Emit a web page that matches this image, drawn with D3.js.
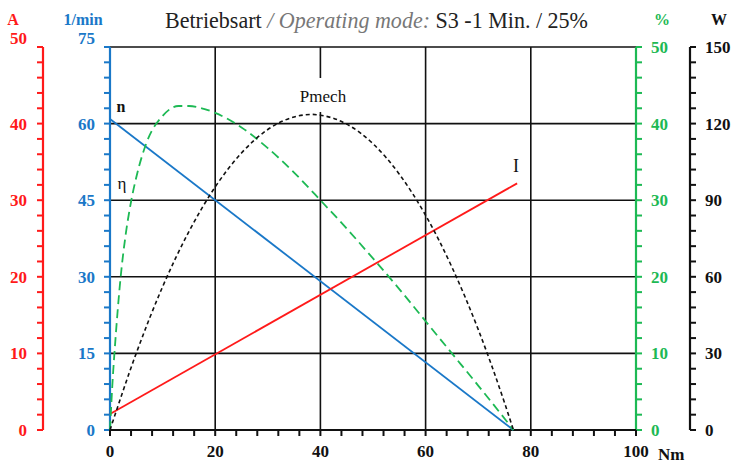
<!DOCTYPE html>
<html>
<head>
<meta charset="utf-8">
<script src="https://cdn.jsdelivr.net/npm/d3@7"></script>
<style>
  body { margin: 0; background: #fff; }
  text { font-family: "Liberation Serif", "DejaVu Serif", serif; }
</style>
</head>
<body>
<svg id="chart" width="731" height="463"></svg>
<script>
// torque axis (Nm)
const torqueTicks = [0, 20, 40, 60, 80, 100];

// speed n (1/min) - straight line
const speedTorque = [0, 76.7];
const speedValues = [60.9, 0];

// current I (A) - straight line
const currentTorque = [0, 77.4];
const currentValues = [2.1, 32.2];

// mechanical power Pmech (W)
const powerTorque = [0, 5, 10, 15, 20, 25, 30, 35, 38.4, 40, 45, 50, 55, 60, 65, 70, 75, 76.7];
const powerValues = [0, 30.1, 56.1, 77.7, 95.2, 108.5, 117.7, 122.6, 123.6, 123.3, 119.8, 112.1, 100.2, 84.1, 63.8, 39.4, 10.7, 0];

// efficiency eta (%)
const etaTorque = [0, 0.5, 1, 2, 3, 4, 5, 7, 10, 13, 15, 18, 20, 25, 30, 35, 40, 45, 50, 55, 60, 65, 70, 75, 76.7];
const etaValues = [0, 6.5, 11.5, 19.8, 25.6, 29.8, 33.0, 37.6, 41.0, 42.3, 42.3, 41.9, 41.4, 39.5, 36.8, 33.6, 30.0, 26.3, 22.4, 18.4, 14.2, 10.0, 5.8, 1.5, 0];

const plotLeft = 110, plotRight = 636, plotTop = 47, plotBottom = 430;

const svg = d3.select("#chart");

const x = d3.scaleLinear().domain([0, 100]).range([plotLeft, plotRight]);
const yA = d3.scaleLinear().domain([0, 50]).range([plotBottom, plotTop]);
const yN = d3.scaleLinear().domain([0, 75]).range([plotBottom, plotTop]);
const yP = d3.scaleLinear().domain([0, 50]).range([plotBottom, plotTop]);
const yW = d3.scaleLinear().domain([0, 150]).range([plotBottom, plotTop]);

const RED = "#ff1a1a", BLUE = "#1a78c8", GREEN = "#1db954", BLACK = "#111";

// grid
const grid = svg.append("g");
grid.selectAll("line.v")
  .data(torqueTicks.slice(1, -1))
  .join("line")
  .attr("class", "v")
  .attr("x1", d => x(d)).attr("x2", d => x(d))
  .attr("y1", plotTop).attr("y2", plotBottom)
  .attr("stroke", BLACK).attr("stroke-width", 1.6);
grid.selectAll("line.h")
  .data([15, 30, 45, 60, 75])
  .join("line")
  .attr("class", "h")
  .attr("x1", plotLeft).attr("x2", plotRight)
  .attr("y1", d => yN(d)).attr("y2", d => yN(d))
  .attr("stroke", BLACK).attr("stroke-width", 1.6);

// generic vertical axis builder
function drawAxis(opts) {
  const { scale, xPos, color, step, minor, side, labelX, anchor, shiftTop } = opts;
  const g = svg.append("g").attr("class", "axis");
  const [d0, d1] = scale.domain();
  g.append("line")
    .attr("x1", xPos).attr("x2", xPos)
    .attr("y1", scale(d0)).attr("y2", scale(d1))
    .attr("stroke", color).attr("stroke-width", 2.2);
  const ticks = d3.range(d0, d1 + minor / 2, minor);
  const len = side === "left" ? -6 : 6;
  g.selectAll("line.tick")
    .data(ticks)
    .join("line")
    .attr("class", "tick")
    .attr("x1", xPos).attr("x2", xPos + len)
    .attr("y1", d => scale(d)).attr("y2", d => scale(d))
    .attr("stroke", color).attr("stroke-width", 2);
  g.selectAll("text")
    .data(d3.range(d0, d1 + step / 2, step))
    .join("text")
    .attr("x", labelX)
    .attr("y", d => scale(d) + 6 - (shiftTop && d === d1 ? 9 : 0))
    .attr("text-anchor", anchor)
    .attr("fill", color)
    .attr("font-size", 17)
    .attr("font-weight", "bold")
    .text(d => d);
}

drawAxis({ scale: yA, xPos: 43, color: RED, step: 10, minor: 2, side: "left", labelX: 27, anchor: "end", shiftTop: true });
drawAxis({ scale: yN, xPos: plotLeft, color: BLUE, step: 15, minor: 3, side: "left", labelX: 95, anchor: "end", shiftTop: true });
drawAxis({ scale: yP, xPos: plotRight, color: GREEN, step: 10, minor: 2, side: "right", labelX: 651, anchor: "start" });
drawAxis({ scale: yW, xPos: 690, color: BLACK, step: 30, minor: 6, side: "right", labelX: 705, anchor: "start" });

// bottom axis
const xg = svg.append("g");
xg.append("line")
  .attr("x1", plotLeft).attr("x2", plotRight).attr("y1", plotBottom).attr("y2", plotBottom)
  .attr("stroke", BLACK).attr("stroke-width", 2.2);
xg.selectAll("line.tick")
  .data(d3.range(0, 101, 4))
  .join("line")
  .attr("class", "tick")
  .attr("x1", d => x(d)).attr("x2", d => x(d))
  .attr("y1", plotBottom).attr("y2", plotBottom + 6)
  .attr("stroke", BLACK).attr("stroke-width", 2);
xg.selectAll("text")
  .data(torqueTicks)
  .join("text")
  .attr("x", d => x(d)).attr("y", 457)
  .attr("text-anchor", "middle")
  .attr("font-size", 17).attr("font-weight", "bold")
  .attr("fill", BLACK)
  .text(d => d);

// axis units
const units = [
  { t: "A", x: 13, c: RED },
  { t: "1/min", x: 83, c: BLUE },
  { t: "%", x: 662, c: GREEN },
  { t: "W", x: 719, c: BLACK }
];
svg.selectAll("text.unit")
  .data(units)
  .join("text")
  .attr("class", "unit")
  .attr("x", d => d.x).attr("y", 25)
  .attr("text-anchor", "middle")
  .attr("font-size", 16).attr("font-weight", "bold")
  .attr("fill", d => d.c)
  .text(d => d.t);
svg.append("text")
  .attr("x", 658).attr("y", 460)
  .attr("font-size", 17).attr("font-weight", "bold")
  .attr("fill", BLACK)
  .text("Nm");

// title
const title = svg.append("text")
  .attr("x", 165).attr("y", 28)
  .attr("font-size", 23)
  .attr("textLength", 423)
  .attr("lengthAdjust", "spacingAndGlyphs");
title.append("tspan").attr("fill", "#222").text("Betriebsart ");
title.append("tspan").attr("fill", "#777").attr("font-style", "italic").text("/ Operating mode: ");
title.append("tspan").attr("fill", "#222").text("S3 -1 Min. / 25%");

// curves
function pairs(xs, ys) {
  return xs.map((t, i) => [t, ys[i]]);
}

svg.append("path")
  .datum(pairs(speedTorque, speedValues))
  .attr("fill", "none").attr("stroke", BLUE).attr("stroke-width", 1.8)
  .attr("d", d3.line().x(d => x(d[0])).y(d => yN(d[1])));

svg.append("path")
  .datum(pairs(currentTorque, currentValues))
  .attr("fill", "none").attr("stroke", RED).attr("stroke-width", 1.8)
  .attr("d", d3.line().x(d => x(d[0])).y(d => yA(d[1])));

svg.append("path")
  .datum(pairs(etaTorque, etaValues))
  .attr("fill", "none").attr("stroke", GREEN).attr("stroke-width", 1.8)
  .attr("stroke-dasharray", "9,5")
  .attr("d", d3.line().curve(d3.curveMonotoneX).x(d => x(d[0])).y(d => yP(d[1])));

// Pmech label box (covers grid line)
svg.append("rect")
  .attr("x", 298).attr("y", 78).attr("width", 52).attr("height", 34)
  .attr("fill", "#fff");

svg.append("path")
  .datum(pairs(powerTorque, powerValues))
  .attr("fill", "none").attr("stroke", BLACK).attr("stroke-width", 1.6)
  .attr("stroke-dasharray", "4,3")
  .attr("d", d3.line().curve(d3.curveMonotoneX).x(d => x(d[0])).y(d => yW(d[1])));

// curve labels
const curveLabels = [
  { t: "n", x: 121, y: 112, w: "bold", s: 16 },
  { t: "η", x: 122, y: 189, w: "normal", s: 17 },
  { t: "Pmech", x: 323, y: 102, w: "normal", s: 17 },
  { t: "I", x: 516, y: 172, w: "normal", s: 18 }
];
svg.selectAll("text.clabel")
  .data(curveLabels)
  .join("text")
  .attr("class", "clabel")
  .attr("x", d => d.x).attr("y", d => d.y)
  .attr("text-anchor", "middle")
  .attr("font-size", d => d.s).attr("font-weight", d => d.w)
  .attr("fill", BLACK)
  .text(d => d.t);
</script>
</body>
</html>
